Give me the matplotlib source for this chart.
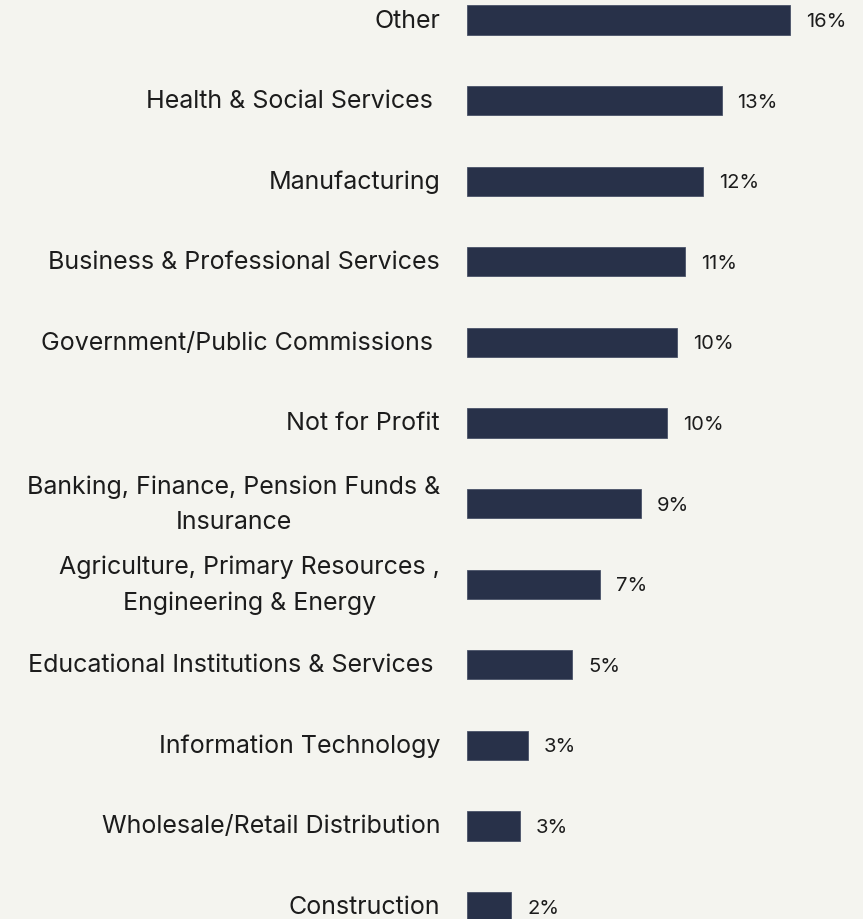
import matplotlib
matplotlib.use("Agg")
import matplotlib.pyplot as plt

sectors = [
    "Other",
    "Health & Social Services ",
    "Manufacturing",
    "Business & Professional Services",
    "Government/Public Commissions ",
    "Not for Profit",
    "Banking, Finance, Pension Funds &\nInsurance",
    "Agriculture, Primary Resources ,\nEngineering & Energy",
    "Educational Institutions & Services ",
    "Information Technology",
    "Wholesale/Retail Distribution",
    "Construction",
]
shares = [16.0, 12.6, 11.7, 10.8, 10.4, 9.9, 8.6, 6.6, 5.2, 3.0, 2.6, 2.2]

bg = "#f4f4ef"
bar_color = "#283149"
text_color = "#1c1c1c"

plt.rcParams["font.family"] = ["Inter", "DejaVu Sans"]

fig = plt.figure(figsize=(8.63, 9.19), dpi=100, facecolor=bg)
W, H = 863, 919
x0 = 467
px_per_pct = 20.2
row = 80.6
top = 20

ax = fig.add_axes([x0 / W, 0, 1 - x0 / W, 1])
ax.set_facecolor(bg)
ax.set_xlim(0, (W - x0) / px_per_pct)
ax.set_ylim((H - top) / row, -top / row)

ypos = list(range(len(sectors)))
ax.barh(ypos, shares, height=0.36, color=bar_color,
        edgecolor="#4a5268", linewidth=0.6)

for y, label, v in zip(ypos, sectors, shares):
    ax.annotate(label, xy=(0, y), xytext=(-27, -1), textcoords="offset pixels",
                ha="right", va="center", fontsize=18, color=text_color,
                multialignment="center", linespacing=1.7, annotation_clip=False)
    ax.annotate(f"{v:.0f}%", xy=(v, y), xytext=(16, -2), textcoords="offset pixels",
                ha="left", va="center", fontsize=14.5, color=text_color,
                annotation_clip=False)

for s in ax.spines.values():
    s.set_visible(False)
ax.set_xticks([])
ax.set_yticks([])

fig.savefig("out.png", dpi=100, facecolor=bg)
